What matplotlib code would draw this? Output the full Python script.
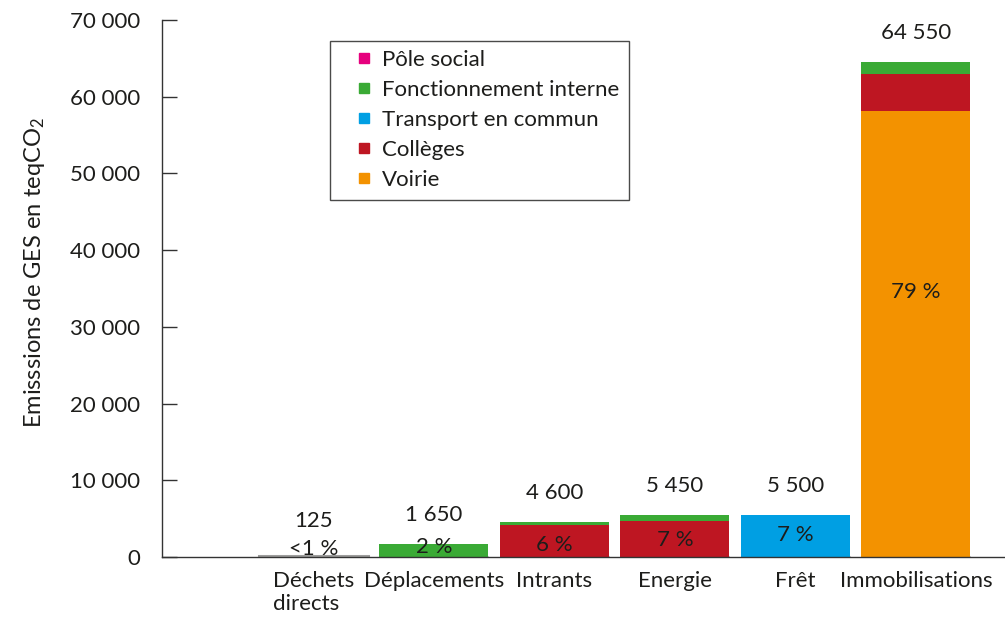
import matplotlib
matplotlib.use("Agg")
import matplotlib.pyplot as plt
from matplotlib.lines import Line2D
import numpy as np

plt.rcParams["font.family"] = ["Lato", "DejaVu Sans"]
plt.rcParams["mathtext.fontset"] = "custom"
plt.rcParams["mathtext.rm"] = "Lato"
plt.rcParams["mathtext.it"] = "Lato"

# --- data (teqCO2) ---
categories = ["Déchets\ndirects", "Déplacements", "Intrants", "Energie", "Frêt", "Immobilisations"]
dechets = [125, 0, 0, 0, 0, 0]
voirie = [0, 0, 0, 0, 0, 58200]
colleges = [0, 0, 4150, 4700, 0, 4750]
transport = [0, 0, 0, 0, 5500, 0]
fonctionnement = [0, 1650, 450, 750, 0, 1600]
pole_social = [0, 0, 0, 0, 0, 0]
yticks = [0, 10000, 20000, 30000, 40000, 50000, 60000, 70000]

# vertical placement of the share labels
pct_y = [1050, 1300, 1550, 2200, 2850, 34500]

col_grey = "#9d9d9c"
col_voirie = "#f39200"
col_colleges = "#be1622"
col_transport = "#009fe3"
col_fonct = "#3aaa35"
col_pole = "#e6007e"
txt = "#1d1d1b"
FS = 16

def fmt(v):
    return f"{int(round(v)):,}".replace(",", " ")

fig = plt.figure(figsize=(10.05, 6.23), dpi=100)
ax = fig.add_axes([0.1612, 0.1059, 0.8388, 0.862])

x = np.arange(1, len(categories) + 1)
w = 0.905
stack = [
    (dechets, col_grey),
    (voirie, col_voirie),
    (colleges, col_colleges),
    (transport, col_transport),
    (fonctionnement, col_fonct),
    (pole_social, col_pole),
]
bottom = np.zeros(len(categories))
for vals, c in stack:
    v = np.array(vals, dtype=float)
    # thin same-colour outline keeps very small segments visible
    lw = 2.2 if c == col_grey else 0
    ax.bar(x, v, width=w, bottom=bottom, color=c, edgecolor=c, linewidth=lw)
    bottom += v

totals = bottom
grand = totals.sum()
for xi, t, py in zip(x, totals, pct_y):
    off = 35 if t < 1000 else 29
    ax.annotate(fmt(t), (xi, t), xytext=(0, off * 0.72), textcoords="offset points",
                ha="center", va="center", fontsize=FS, color=txt)
    p = 100 * t / grand
    lab = "<1 %" if p < 1 else f"{p:.0f} %"
    ax.text(xi, py, lab, ha="center", va="center", fontsize=FS, color=txt)

ax.set_xlim(-0.257, 6.74)
ax.set_ylim(0, 70000)
ax.set_yticks(yticks)
ax.set_yticklabels([fmt(v) for v in yticks])
ax.set_xticks(x)
ax.set_xticklabels(categories, multialignment="left")
ax.tick_params(axis="x", length=0, pad=10, labelsize=FS, labelcolor=txt)
ax.tick_params(axis="y", direction="in", length=11, width=1, pad=16,
               labelsize=FS, labelcolor=txt, color="#333333")
for s in ["top", "right"]:
    ax.spines[s].set_visible(False)
for s in ["left", "bottom"]:
    ax.spines[s].set_color("#333333")
    ax.spines[s].set_linewidth(1)

ax.set_ylabel(r"Emisssions de GES en teqCO$_2$", fontsize=17, color=txt, labelpad=16)
ax.yaxis.label.set_y(0.53)

entries = [
    (col_pole, "Pôle social"),
    (col_fonct, "Fonctionnement interne"),
    (col_transport, "Transport en commun"),
    (col_colleges, "Collèges"),
    (col_voirie, "Voirie"),
]
handles = [Line2D([], [], marker="s", linestyle="none", markersize=7,
                  markerfacecolor=c, markeredgecolor=c, label=l) for c, l in entries]
leg = ax.legend(handles=handles, loc="upper left", bbox_to_anchor=(0.199, 0.961),
                fontsize=FS, frameon=True, fancybox=False, edgecolor="#1d1d1b",
                handlelength=2.2, handletextpad=-0.25,
                labelspacing=0.45, borderpad=0.42, borderaxespad=0)
leg.get_frame().set_linewidth(1)
for t in leg.get_texts():
    t.set_color(txt)

fig.savefig("out.png", dpi=100)
